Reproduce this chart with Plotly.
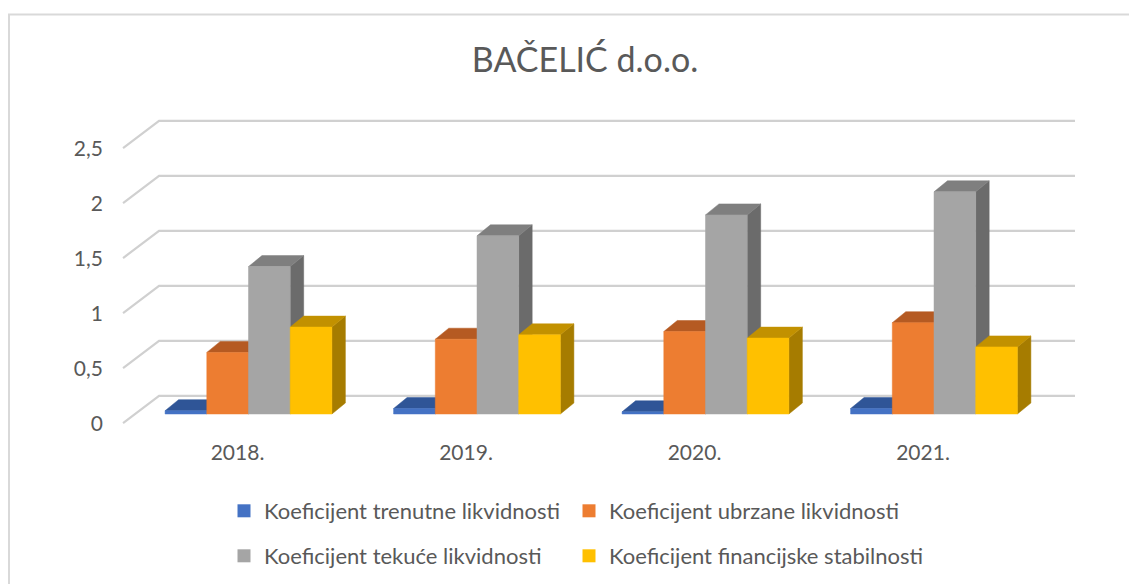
import plotly.graph_objects as go

# ---------------- data ----------------
categories = ["2018.", "2019.", "2020.", "2021."]
series_names = [
    "Koeficijent trenutne likvidnosti",
    "Koeficijent ubrzane likvidnosti",
    "Koeficijent tekuće likvidnosti",
    "Koeficijent financijske stabilnosti",
]
trenutne = [0.03, 0.05, 0.02, 0.05]
ubrzane = [0.56, 0.68, 0.75, 0.83]
tekuce = [1.34, 1.62, 1.81, 2.02]
financijske = [0.79, 0.72, 0.69, 0.61]
y_ticks = [0, 0.5, 1, 1.5, 2, 2.5]

series_values = [trenutne, ubrzane, tekuce, financijske]

# ---------------- styling ----------------
front_col = ["#4472C4", "#ED7D31", "#A5A5A5", "#FFC000"]
top_col = ["#2F5597", "#B55A22", "#7F7F7F", "#C29100"]
side_col = ["#264478", "#9E480E", "#6B6B6B", "#A67C00"]
FONT = "Lato"
TXT = "#595959"

n_series = len(series_values)
bargap = 0.27
bar_w = (1 - bargap) / n_series
ddx, ddy = 0.059, 0.10          # bar depth (oblique projection)
fx, fy = -0.0525, -0.082        # floor front offset relative to bar front
bx, by = 0.105, 0.164           # back wall offset relative to bar front
x_front_left = -0.549
x_back_right = 3.617

fig = go.Figure()

# ---------------- gridlines (back wall + left side wall) ----------------
gx, gy = [], []
for v in y_ticks:
    gx += [x_front_left, x_front_left + (bx - fx), x_back_right, None]
    gy += [v + fy, v + by, v + by, None]
fig.add_trace(go.Scatter(x=gx, y=gy, mode="lines",
                         line=dict(color="#D0D0D0", width=2.2),
                         hoverinfo="skip", showlegend=False))

def bar_x0(i, s):
    return i - (1 - bargap) / 2 + s * bar_w

# side faces
for s, vals in enumerate(series_values):
    xs, ys = [], []
    for i, v in enumerate(vals):
        x1 = bar_x0(i, s) + bar_w
        xs += [x1, x1 + ddx, x1 + ddx, x1, x1, None]
        ys += [0, ddy, v + ddy, v, 0, None]
    fig.add_trace(go.Scatter(x=xs, y=ys, mode="lines", fill="toself",
                             fillcolor=side_col[s], line=dict(color=side_col[s], width=0.5),
                             hoverinfo="skip", showlegend=False))
# top faces
for s, vals in enumerate(series_values):
    xs, ys = [], []
    for i, v in enumerate(vals):
        x0 = bar_x0(i, s)
        x1 = x0 + bar_w
        xs += [x0, x1, x1 + ddx, x0 + ddx, x0, None]
        ys += [v, v, v + ddy, v + ddy, v, None]
    fig.add_trace(go.Scatter(x=xs, y=ys, mode="lines", fill="toself",
                             fillcolor=top_col[s], line=dict(color=top_col[s], width=0.5),
                             hoverinfo="skip", showlegend=False))
# front faces
for s, vals in enumerate(series_values):
    xs, ys = [], []
    for i, v in enumerate(vals):
        x0 = bar_x0(i, s)
        x1 = x0 + bar_w
        xs += [x0, x1, x1, x0, x0, None]
        ys += [0, 0, v, v, 0, None]
    fig.add_trace(go.Scatter(x=xs, y=ys, mode="lines", fill="toself",
                             fillcolor=front_col[s], line=dict(color=front_col[s], width=0.5),
                             name=series_names[s], hoverinfo="skip", showlegend=False))

# legend entries (one legend per entry, arranged in a 2x2 grid)
legend_ids = ["legend", "legend2", "legend3", "legend4"]
for s in range(n_series):
    fig.add_trace(go.Scatter(x=[None], y=[None], mode="markers",
                             marker=dict(symbol="square", size=13, color=front_col[s]),
                             name=series_names[s], showlegend=True,
                             legend=legend_ids[s]))

H, W = 584, 1137
L = 96
PW = W - L
X0PX, XSTEP = 240.5, 228.5     # category 0 centre and spacing (figure px)
Y0PX, YSTEP = 406.0, 110.0     # value 0 and px per unit (figure px)

def px_x(p):
    return (p - L) / PW

def px_y(p):
    return 1 - p / H

def leg(xp, yp):
    return dict(orientation="h", xref="paper", yref="paper",
                x=px_x(xp), xanchor="left", y=px_y(yp), yanchor="middle",
                font=dict(family=FONT, size=22, color=TXT),
                bgcolor="rgba(0,0,0,0)")

fig.update_layout(
    width=W, height=H,
    margin=dict(l=L, r=0, t=0, b=0, autoexpand=False),
    paper_bgcolor="white", plot_bgcolor="white",
    separators=", ",
    font=dict(family=FONT, color=TXT),
    title=dict(text="BAČELIĆ d.o.o.", x=577 / W, xanchor="center",
               y=1 - 52 / H, yanchor="middle", xref="container", yref="container",
               font=dict(family=FONT, size=34, color=TXT)),
    xaxis=dict(range=[(L - X0PX) / XSTEP, (W - X0PX) / XSTEP],
               showgrid=False, zeroline=False, showline=False,
               tickvals=list(range(len(categories))), ticktext=categories,
               ticks="", anchor="free", position=px_y(429.5),
               ticklabelshift=-11,
               tickfont=dict(family=FONT, size=21, color=TXT)),
    yaxis=dict(range=[(Y0PX - H) / YSTEP, Y0PX / YSTEP],
               showgrid=False, zeroline=False, showline=False,
               tickvals=y_ticks, ticks="", ticklabelshift=10,
               tickfont=dict(family=FONT, size=21, color=TXT)),
    legend=leg(216, 503),
    legend2=leg(561, 503),
    legend3=leg(216, 548),
    legend4=leg(561, 548),
    shapes=[dict(type="rect", xref="paper", yref="paper",
                 x0=px_x(1), x1=px_x(W + 20),
                 y0=-0.1, y1=px_y(6.5),
                 line=dict(color="#D9D9D9", width=2), fillcolor="rgba(0,0,0,0)",
                 layer="below")],
)

fig.write_html("out.html")
